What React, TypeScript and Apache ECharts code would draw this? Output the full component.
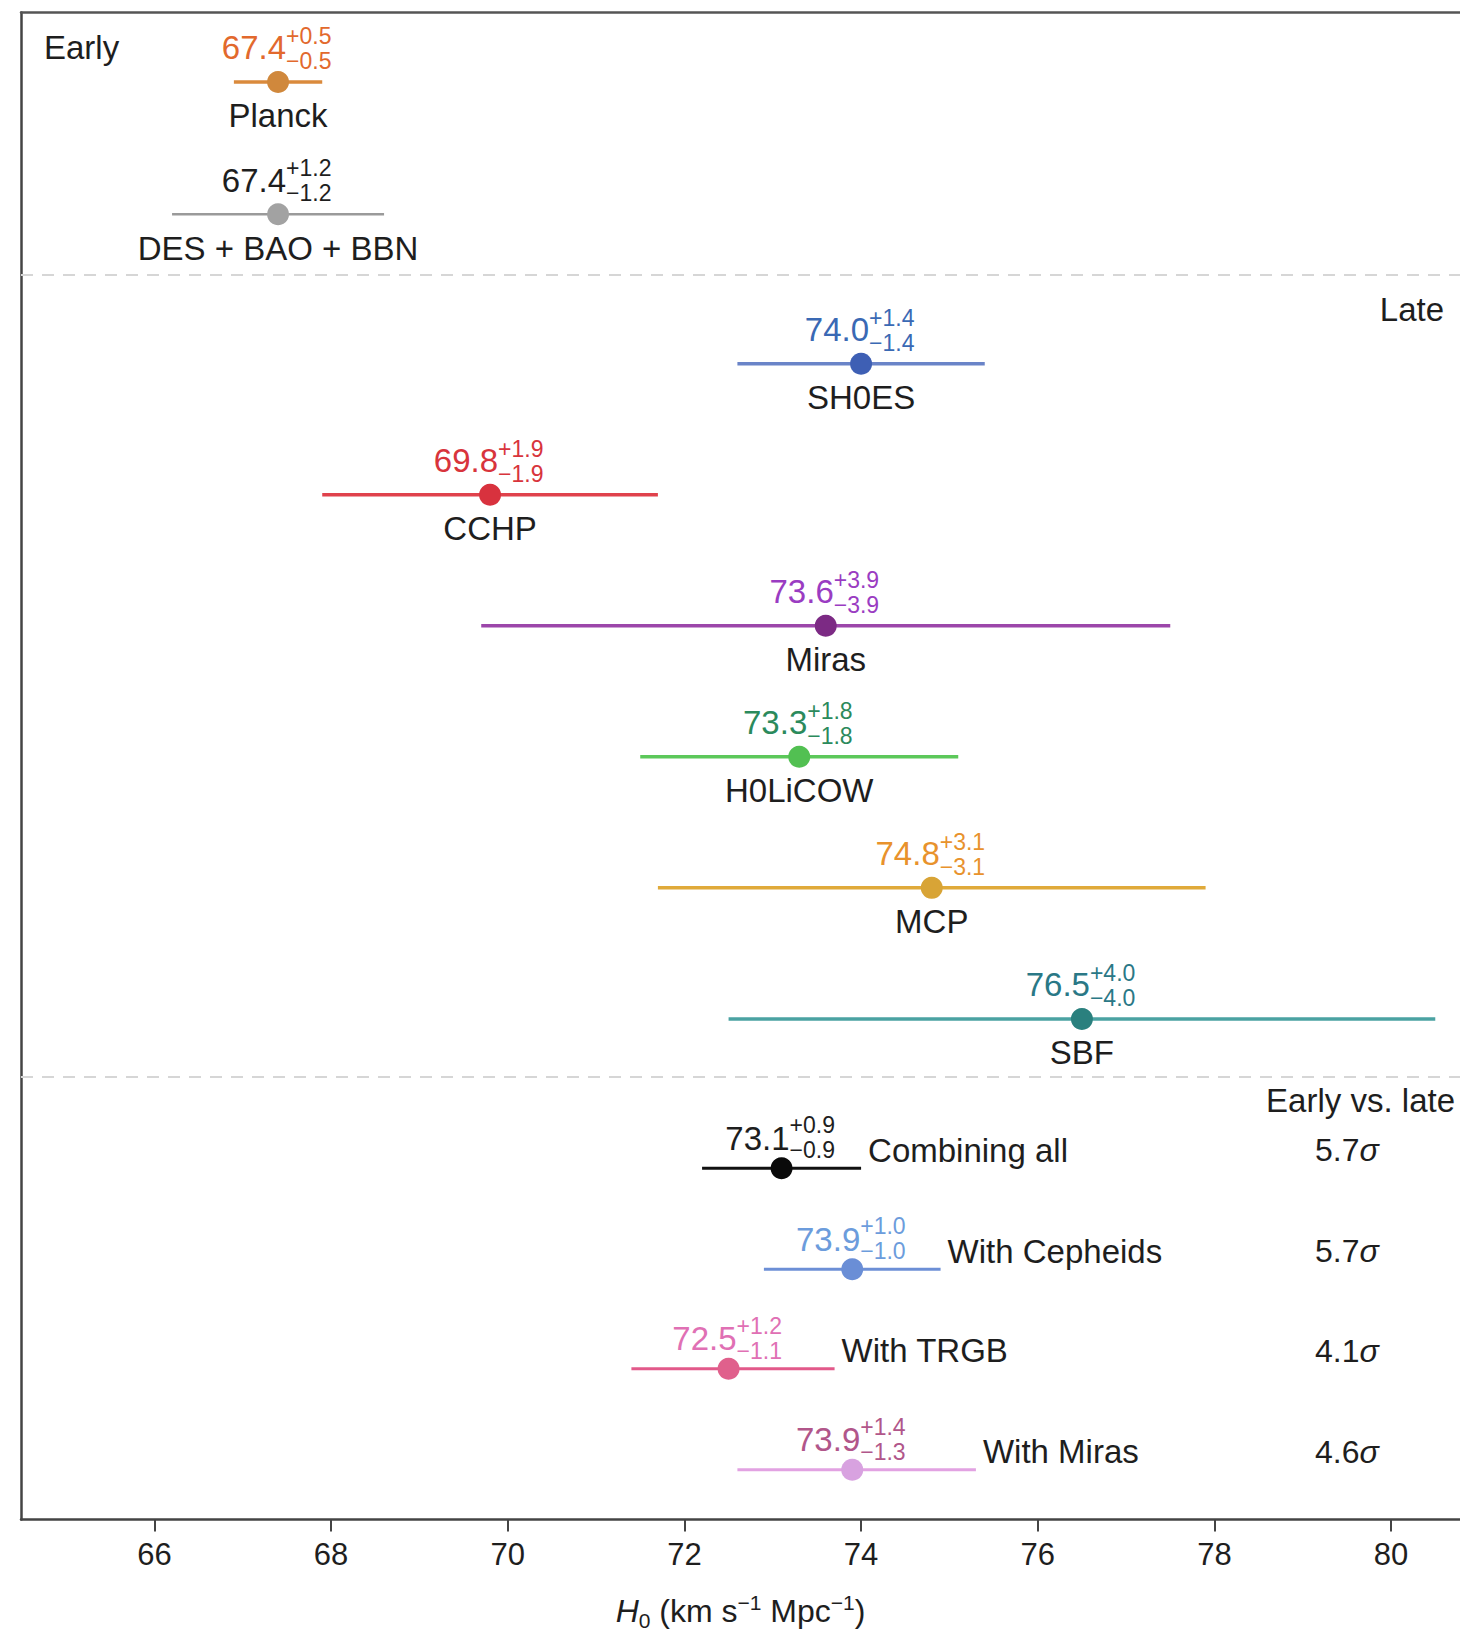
import React, { useEffect, useRef } from "react";
import * as echarts from "echarts";

const names = ["Planck", "DES + BAO + BBN", "SH0ES", "CCHP", "Miras", "H0LiCOW", "MCP", "SBF", "Combining all", "With Cepheids", "With TRGB", "With Miras"];
const values = [67.4, 67.4, 74.0, 69.8, 73.6, 73.3, 74.8, 76.5, 73.1, 73.9, 72.5, 73.9];
const errPlus = [0.5, 1.2, 1.4, 1.9, 3.9, 1.8, 3.1, 4.0, 0.9, 1.0, 1.2, 1.4];
const errMinus = [0.5, 1.2, 1.4, 1.9, 3.9, 1.8, 3.1, 4.0, 0.9, 1.0, 1.1, 1.3];
const rows = [0.53, 1.54, 2.68, 3.68, 4.68, 5.68, 6.68, 7.68, 8.82, 9.59, 10.35, 11.12];
const groups = ["early", "early", "late", "late", "late", "late", "late", "late", "combined", "combined", "combined", "combined"];
const sigmas = ["", "", "", "", "", "", "", "", "5.7", "5.7", "4.1", "4.6"];
const separators = [2.0, 8.12];
const xTicks = [66, 68, 70, 72, 74, 76, 78, 80];

const textColors = ["#e2692d", "#1e1e1e", "#3a69b4", "#d8343c", "#9a3cc2", "#2b8a5c", "#e8922c", "#2a7886", "#1e1e1e", "#6c9cdc", "#e070b4", "#b1568a"];
const lineColors = ["#da8a3c", "#9a9a9a", "#6a84c8", "#e0424c", "#9c46aa", "#5cc85a", "#e0aa3a", "#4aa2a2", "#111111", "#6c8fd6", "#e2598a", "#e2a2e2"];
const dotColors = ["#d0883c", "#a2a2a2", "#3e5fb4", "#d8323e", "#7c2a84", "#52c052", "#d8a436", "#2a807e", "#0a0a0a", "#6a8ed6", "#e0608c", "#d8a2e0"];

const FONT = "'Liberation Sans', Arial, Helvetica, sans-serif";
const TXT = "#1e1e1e";
const BIG = 33;
const SMALL = 23;

export default function App() {
  const ref = useRef<HTMLDivElement>(null);
  useEffect(() => {
    if (!ref.current) return;
    const chart = echarts.init(ref.current, null, { renderer: "svg" });
    const data = values.map((v, i) => [v, v - errMinus[i], v + errPlus[i], rows[i], i]);
    const option: any = {
      animation: false,
      backgroundColor: "#ffffff",
      textStyle: { fontFamily: FONT },
      grid: { left: 21, top: 12.5, right: 0, bottom: 115.5, containLabel: false, outerBoundsMode: "none" },
      xAxis: [
        {
          type: "value",
          min: 64.49,
          max: 80.78,
          position: "bottom",
          splitLine: { show: false },
          axisLine: { show: true, onZero: false, lineStyle: { color: "#444", width: 2.5 } },
          axisTick: { show: true, length: 12, customValues: xTicks, lineStyle: { color: "#444", width: 2 } },
          axisLabel: { show: true, customValues: xTicks, fontSize: 31, color: TXT, margin: 19, fontFamily: FONT },
          name: "{i|H}{sub|0} (km s{sup|−1} Mpc{sup|−1})",
          nameLocation: "middle",
          nameGap: 72,
          nameTextStyle: {
            fontSize: 32,
            color: TXT,
            fontFamily: FONT,
            rich: {
              i: { fontStyle: "italic", fontSize: 32, color: TXT, fontFamily: FONT },
              sub: { fontSize: 21, color: TXT, verticalAlign: "bottom", fontFamily: FONT, padding: [18, 0, 0, 0] },
              sup: { fontSize: 21, color: TXT, verticalAlign: "top", fontFamily: FONT, padding: [0, 0, 12, 0] },
            },
          },
        },
        {
          type: "value",
          min: 64.49,
          max: 80.78,
          position: "top",
          splitLine: { show: false },
          axisLine: { show: true, onZero: false, lineStyle: { color: "#555", width: 2.5 } },
          axisTick: { show: false },
          axisLabel: { show: false },
        },
      ],
      yAxis: {
        type: "value",
        inverse: true,
        min: 0,
        max: 11.5,
        splitLine: { show: false },
        axisLine: { show: true, onZero: false, lineStyle: { color: "#444", width: 2.5 } },
        axisTick: { show: false },
        axisLabel: { show: false },
      },
      series: [
        {
          type: "line",
          data: [],
          markLine: {
            silent: true,
            symbol: ["none", "none"],
            label: { show: false },
            lineStyle: { type: [12, 9], color: "#d6d6d6", width: 2 },
            data: separators.map((s) => ({ yAxis: s })),
          },
        },
        {
          type: "custom",
          data,
          encode: { x: 0, y: 3 },
          renderItem: (params: any, api: any) => {
            const i = api.value(4);
            const row = api.value(3);
            const c = api.coord([api.value(0), row]);
            const l = api.coord([api.value(1), row]);
            const h = api.coord([api.value(2), row]);
            const combined = groups[i] === "combined";
            const lw = i === 1 ? 2.5 : combined ? 3 : 3.5;
            const children: any[] = [
              {
                type: "line",
                shape: { x1: l[0], y1: c[1], x2: h[0], y2: c[1] },
                style: { stroke: lineColors[i], lineWidth: lw, lineCap: "butt" },
              },
              {
                type: "circle",
                shape: { cx: c[0], cy: c[1], r: 11 },
                style: { fill: dotColors[i] },
              },
            ];
            const mainDy = combined ? -30 : -34;
            const supDy = combined ? -43 : -46;
            const subDy = combined ? -18 : -21;
            const vx = c[0] + 8;
            children.push(
              {
                type: "text",
                x: vx,
                y: c[1] + mainDy,
                style: { text: values[i].toFixed(1), fill: textColors[i], fontSize: BIG, fontFamily: FONT, align: "right", textAlign: "right", verticalAlign: "middle", textVerticalAlign: "middle" },
              },
              {
                type: "text",
                x: vx,
                y: c[1] + supDy,
                style: { text: "+" + errPlus[i].toFixed(1), fill: textColors[i], fontSize: SMALL, fontFamily: FONT, align: "left", textAlign: "left", verticalAlign: "middle", textVerticalAlign: "middle" },
              },
              {
                type: "text",
                x: vx,
                y: c[1] + subDy,
                style: { text: "−" + errMinus[i].toFixed(1), fill: textColors[i], fontSize: SMALL, fontFamily: FONT, align: "left", textAlign: "left", verticalAlign: "middle", textVerticalAlign: "middle" },
              }
            );
            if (combined) {
              children.push({
                type: "text",
                x: h[0] + 7,
                y: c[1] - 18,
                style: { text: names[i], fill: TXT, fontSize: BIG, fontFamily: FONT, align: "left", textAlign: "left", verticalAlign: "middle", textVerticalAlign: "middle" },
              });
              const sp = api.coord([79.5, row]);
              children.push({
                type: "text",
                x: sp[0],
                y: c[1] - 18,
                style: {
                  text: sigmas[i] + "{i|σ}",
                  fill: TXT,
                  fontSize: 32,
                  fontFamily: FONT,
                  align: "center",
                  textAlign: "center",
                  verticalAlign: "middle",
                  textVerticalAlign: "middle",
                  rich: { i: { fontStyle: "italic", fontSize: 32, fontFamily: FONT, fill: TXT, color: TXT } },
                },
              });
            } else {
              children.push({
                type: "text",
                x: c[0],
                y: c[1] + 34,
                style: { text: names[i], fill: TXT, fontSize: BIG, fontFamily: FONT, align: "center", textAlign: "center", verticalAlign: "middle", textVerticalAlign: "middle" },
              });
            }
            return { type: "group", children };
          },
        },
      ],
      graphic: [
        { type: "text", left: 44, top: 31, style: { text: "Early", fill: TXT, fontSize: BIG, fontFamily: FONT } },
        { type: "text", right: 16, top: 293, style: { text: "Late", fill: TXT, fontSize: BIG, fontFamily: FONT } },
        { type: "text", right: 5, top: 1084, style: { text: "Early vs. late", fill: TXT, fontSize: BIG, fontFamily: FONT } },
      ],
    };
    chart.setOption(option);
    return () => chart.dispose();
  }, []);
  return <div ref={ref} style={{ position: "absolute", left: 0, top: 0, width: 1460, height: 1635 }} />;
}
